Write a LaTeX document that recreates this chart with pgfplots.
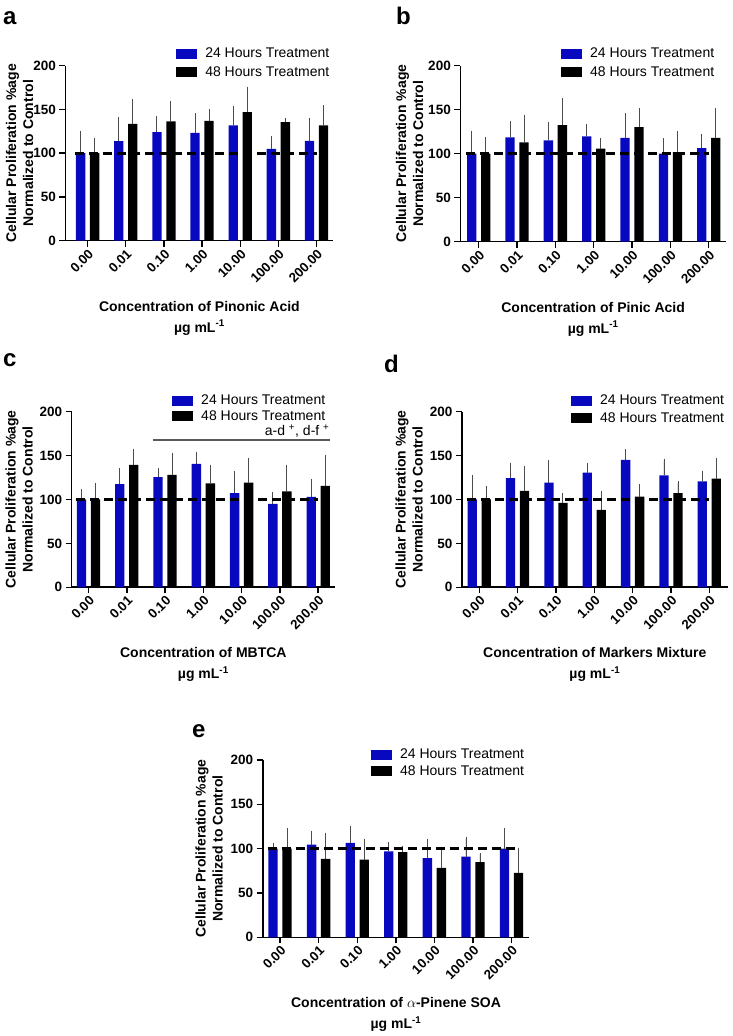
\documentclass[border=0pt]{standalone}
\usepackage{fontspec}
\setmainfont{Liberation Sans}
\usepackage{pgfplots}
\usepackage{pgfplotstable}
\pgfplotsset{compat=1.18}
\definecolor{barblue}{RGB}{8,8,190}

% x  b(24h) be  k(48h) ke
\pgfplotstableread{
x b be k ke
0 100 23.3 100 15.3
1 113.7 25.6 133.6 25.9
2 124 16 136.3 21.3
3 123.3 20.2 137 11.5
4 131.7 20.2 147 26.7
5 105 12.2 135.5 1.9
6 114.1 24.4 131.7 20.6
}\dataA
\pgfplotstableread{
x b be k ke
0 100 23.8 100 16.2
1 118.5 16.6 112.8 29.1
2 115.1 18.1 132.5 28.6
3 119.6 11.7 105.7 10.1
4 118.1 25.7 130.2 18.9
5 100 15.5 101.9 21.1
6 106.4 13.2 118.1 31.7
}\dataB
\pgfplotstableread{
x b be k ke
0 100 9.9 100 16.4
1 117.6 15.6 139.3 16.4
2 125.6 8.0 127.9 23.2
3 140.5 11.8 118.3 19.1
4 107.3 22.5 119.1 26.3
5 95 11.1 109.2 28.2
6 103 18 115.6 33.3
}\dataC
\pgfplotstableread{
x b be k ke
0 100 25.2 100 13
1 124.4 14.9 109.9 26
2 119.1 23.6 96.2 8.8
3 130.5 9.2 88.2 19.4
4 145 10 103.4 11.9
5 127.5 16.8 107.3 11
6 120.6 9.9 123.7 21.3
}\dataD
\pgfplotstableread{
x b be k ke
0 100 4.2 100 20.5
1 104.5 13.3 88.6 27.3
2 106.4 17.1 87.5 21.2
3 97 8.7 96.2 4.6
4 89.4 18.9 78.4 21.2
5 90.9 20.1 84.8 8.4
6 100 20.5 72.7 26.2
}\dataE

\pgfplotsset{
  myaxis/.style={
    scale only axis, anchor=south west, clip=false,
    ybar, bar width=9.3pt,
    ymin=0, ymax=200, ytick={0,50,100,150,200},
    xtick={0,...,6},
    xticklabels={0.00,0.01,0.10,1.00,10.00,100.00,200.00},
    axis lines=left, axis line style={-, line width=1.6pt},
    tick style={line width=1.4pt, black}, major tick length=6pt, tick align=outside,
    x tick label style={rotate=45, anchor=north east, inner sep=1pt,
      font=\bfseries\fontsize{13.3}{14}\selectfont},
    y tick label style={font=\bfseries\fontsize{13.5}{14}\selectfont},
    /pgf/number format/assume math mode=true,
    ylabel={Cellular Proliferation \%age\\Normalized to Control},
    ylabel style={align=center, font=\bfseries\fontsize{14}{17}\selectfont,
      anchor=south, inner sep=0pt},
    xlabel style={align=center, font=\bfseries\fontsize{14}{21}\selectfont,
      at={(axis description cs:0.5,0)}, anchor=north, inner sep=0pt, yshift=-60pt},
    legend image code/.code={\fill[##1] (0pt,-5pt) rectangle (21pt,5pt);},
    legend style={draw=none, fill=none, inner sep=0pt, anchor=north west,
      font=\fontsize{14}{14}\selectfont, column sep=6pt,
      nodes={inner sep=2pt}},
    legend cell align=left,
  },
  blueb/.style={fill=barblue, draw=none, bar shift=-7pt,
    error bars/.cd, y dir=plus, y explicit,
    error bar style={draw=black!70, line width=0.9pt},
    error mark options={draw=black!70, mark size=2pt, line width=0.9pt}},
  blackb/.style={fill=black, draw=none, bar shift=7pt,
    error bars/.cd, y dir=plus, y explicit,
    error bar style={draw=black!70, line width=0.9pt},
    error mark options={draw=black!70, mark size=2pt, line width=0.9pt}},
  ctrl/.style={black, line width=2.8pt, dash pattern=on 9pt off 5pt, sharp plot, forget plot},
}

\begin{document}
\begin{tikzpicture}
\useasboundingbox (0,0) rectangle (733pt,1036pt);

% panel a
\begin{axis}[myaxis, at={(65.5pt,795.3pt)}, width=267.8pt, height=175pt,
  xmin=-0.58, xmax=6.44,
  ylabel style={at={(axis description cs:-0.12,0.5)}},
  xlabel={Concentration of Pinonic Acid\\µg mL\textsuperscript{-1}},
  legend style={at={(0.413,1.113)}, row sep=3pt}]
\addplot[blueb] table[x=x, y=b, y error=be] {\dataA};
\addplot[blackb] table[x=x, y=k, y error=ke] {\dataA};
\addplot[ctrl] coordinates {(-0.32,100) (6,100)};
\legend{24 Hours Treatment, 48 Hours Treatment}
\end{axis}

% panel b
\begin{axis}[myaxis, at={(460.3pt,794.3pt)}, width=265.7pt, height=176pt,
  xmin=-0.48, xmax=6.45,
  ylabel style={at={(axis description cs:-0.139,0.5)}},
  xlabel={Concentration of Pinic Acid\\µg mL\textsuperscript{-1}},
  legend style={at={(0.379,1.112)}, row sep=3pt}]
\addplot[blueb] table[x=x, y=b, y error=be] {\dataB};
\addplot[blackb] table[x=x, y=k, y error=ke] {\dataB};
\addplot[ctrl] coordinates {(-0.32,100) (6,100)};
\legend{24 Hours Treatment, 48 Hours Treatment}
\end{axis}

% panel c
\begin{axis}[myaxis, at={(71.7pt,448.7pt)}, width=263.3pt, height=175.6pt,
  xmin=-0.44, xmax=6.44,
  ylabel style={at={(axis description cs:-0.147,0.5)}},
  xlabel={Concentration of MBTCA\\µg mL\textsuperscript{-1}},
  legend style={at={(0.381,1.107)}, row sep=0pt}]
\addplot[blueb] table[x=x, y=b, y error=be] {\dataC};
\addplot[blackb] table[x=x, y=k, y error=ke] {\dataC};
\addplot[ctrl] coordinates {(-0.32,100) (6,100)};
\draw[black!65, line width=1.3pt] (axis cs:1.68,167.6) -- (axis cs:6.3,167.6);
\node[anchor=base east, inner sep=0pt, font=\fontsize{14}{14}\selectfont]
  at (axis cs:6.3,173) {a-d \textsuperscript{+}, d-f \textsuperscript{+}};
\legend{24 Hours Treatment, 48 Hours Treatment}
\end{axis}

% panel d
\begin{axis}[myaxis, at={(462pt,448.7pt)}, width=265.7pt, height=175.6pt,
  xmin=-0.45, xmax=6.48,
  ylabel style={at={(axis description cs:-0.147,0.5)}},
  xlabel={Concentration of Markers Mixture\\µg mL\textsuperscript{-1}},
  legend style={at={(0.41,1.107)}, row sep=2pt}]
\addplot[blueb] table[x=x, y=b, y error=be] {\dataD};
\addplot[blackb] table[x=x, y=k, y error=ke] {\dataD};
\addplot[ctrl] coordinates {(-0.32,100) (6,100)};
\legend{24 Hours Treatment, 48 Hours Treatment}
\end{axis}

% panel e
\begin{axis}[myaxis, at={(262.7pt,98.7pt)}, width=266.6pt, height=177.3pt,
  xmin=-0.45, xmax=6.46,
  ylabel style={at={(axis description cs:-0.149,0.5)}},
  xlabel={Concentration of $\alpha$-Pinene SOA\\µg mL\textsuperscript{-1}},
  legend style={at={(0.406,1.075)}, row sep=1.5pt}]
\addplot[blueb] table[x=x, y=b, y error=be] {\dataE};
\addplot[blackb] table[x=x, y=k, y error=ke] {\dataE};
\addplot[ctrl] coordinates {(-0.32,100) (6.2,100)};
\legend{24 Hours Treatment, 48 Hours Treatment}
\end{axis}

\begin{scope}[every node/.style={anchor=base west, inner sep=0pt,
    font=\bfseries\fontsize{24}{24}\selectfont}]
\node at (3pt,1011pt) {a};
\node at (396pt,1011pt) {b};
\node at (3pt,669pt) {c};
\node at (384pt,663pt) {d};
\node at (192pt,298pt) {e};
\end{scope}
\end{tikzpicture}
\end{document}
